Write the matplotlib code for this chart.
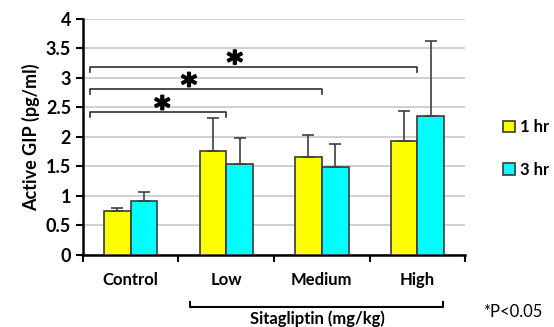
import matplotlib.pyplot as plt
import matplotlib.patheffects as pe
import numpy as np

plt.rcParams['font.family'] = ['Lato', 'DejaVu Sans']
plt.rcParams['font.weight'] = 'bold'

# data
groups = ['Control', 'Low', 'Medium', 'High']
gip_1hr = [0.75, 1.77, 1.66, 1.93]
gip_3hr = [0.91, 1.55, 1.49, 2.36]
err_1hr = [0.05, 0.56, 0.37, 0.51]
err_3hr = [0.16, 0.43, 0.39, 1.27]
series = ['1 hr', '3 hr']
colors = ['#ffff00', '#00ffff']
# significance brackets: (target group index, height, star x)
brackets = [(1, 2.42, 0.33), (2, 2.81, 0.61), (3, 3.19, 1.09)]

fig = plt.figure(figsize=(5.54, 3.27), dpi=100)
ax = fig.add_axes([0.1498, 0.2202, 0.6896, 0.7217])

x = np.arange(len(groups))
w = 0.28
edge = '#3a3a3a'
for i, (vals, errs) in enumerate([(gip_1hr, err_1hr), (gip_3hr, err_3hr)]):
    pos = x + (i - 0.5) * w
    ax.bar(pos, vals, w, color=colors[i], edgecolor=edge, linewidth=1.2,
           label=series[i], zorder=3)
    ax.errorbar(pos, vals, yerr=[np.zeros(len(vals)), errs], fmt='none',
                ecolor='#404040', elinewidth=1.2, capsize=4, capthick=1.2, zorder=4)

ax.set_xlim(-0.5, 3.5)
ax.set_ylim(0, 4)
ax.set_yticks(np.arange(0, 4.01, 0.5))
ax.set_yticklabels(['0', '0.5', '1', '1.5', '2', '2.5', '3', '3.5', '4'])
ax.set_xticks(x)
ax.set_xticklabels(groups, fontsize=12)
ax.set_xticks(np.arange(-0.5, 4, 1), minor=True)
ax.tick_params(axis='x', which='major', length=0, pad=12)
ax.tick_params(axis='x', which='minor', length=5, width=1.5, direction='out')
ax.tick_params(axis='y', length=5, width=1.5, labelsize=13)
ax.yaxis.grid(True, color='#c8c8c8', linewidth=1.2, zorder=0)
for s in ['top', 'right']:
    ax.spines[s].set_visible(False)
ax.spines['left'].set_linewidth(1.8)
ax.spines['bottom'].set_linewidth(1.8)
ax.set_ylabel('Active GIP (pg/ml)', fontsize=13, fontweight='bold', labelpad=4)

# significance brackets
x0 = -0.43
for gi, h, sx in brackets:
    ax.plot([x0, x0, gi, gi], [h - 0.08, h, h, h - 0.08], color='#303030',
            lw=1.2, zorder=5, clip_on=False)
    ax.text(sx, h - 0.10, '*', ha='center', va='baseline',
            fontsize=22, fontweight='heavy', family='DejaVu Sans', zorder=5,
            path_effects=[pe.withStroke(linewidth=1.2, foreground='black')])

# Sitagliptin group bracket
tr = ax.get_xaxis_transform()
ax.plot([0.62, 0.62, 3.27, 3.27], [-0.20, -0.222, -0.222, -0.20], color='black',
        lw=1.5, transform=tr, clip_on=False)
ax.text(1.95, -0.237, 'Sitagliptin (mg/kg)', transform=tr, ha='center', va='top',
        fontsize=12, fontweight='bold')
fig.text(0.872, 0.03, '*P<0.05', fontsize=12, fontweight='normal')

ax.legend(loc='center left', bbox_to_anchor=(1.06, 0.45), frameon=False,
          handlelength=0.7, handleheight=0.7, handletextpad=0.3,
          labelspacing=1.6, fontsize=12)

fig.savefig('out.png', dpi=100)
